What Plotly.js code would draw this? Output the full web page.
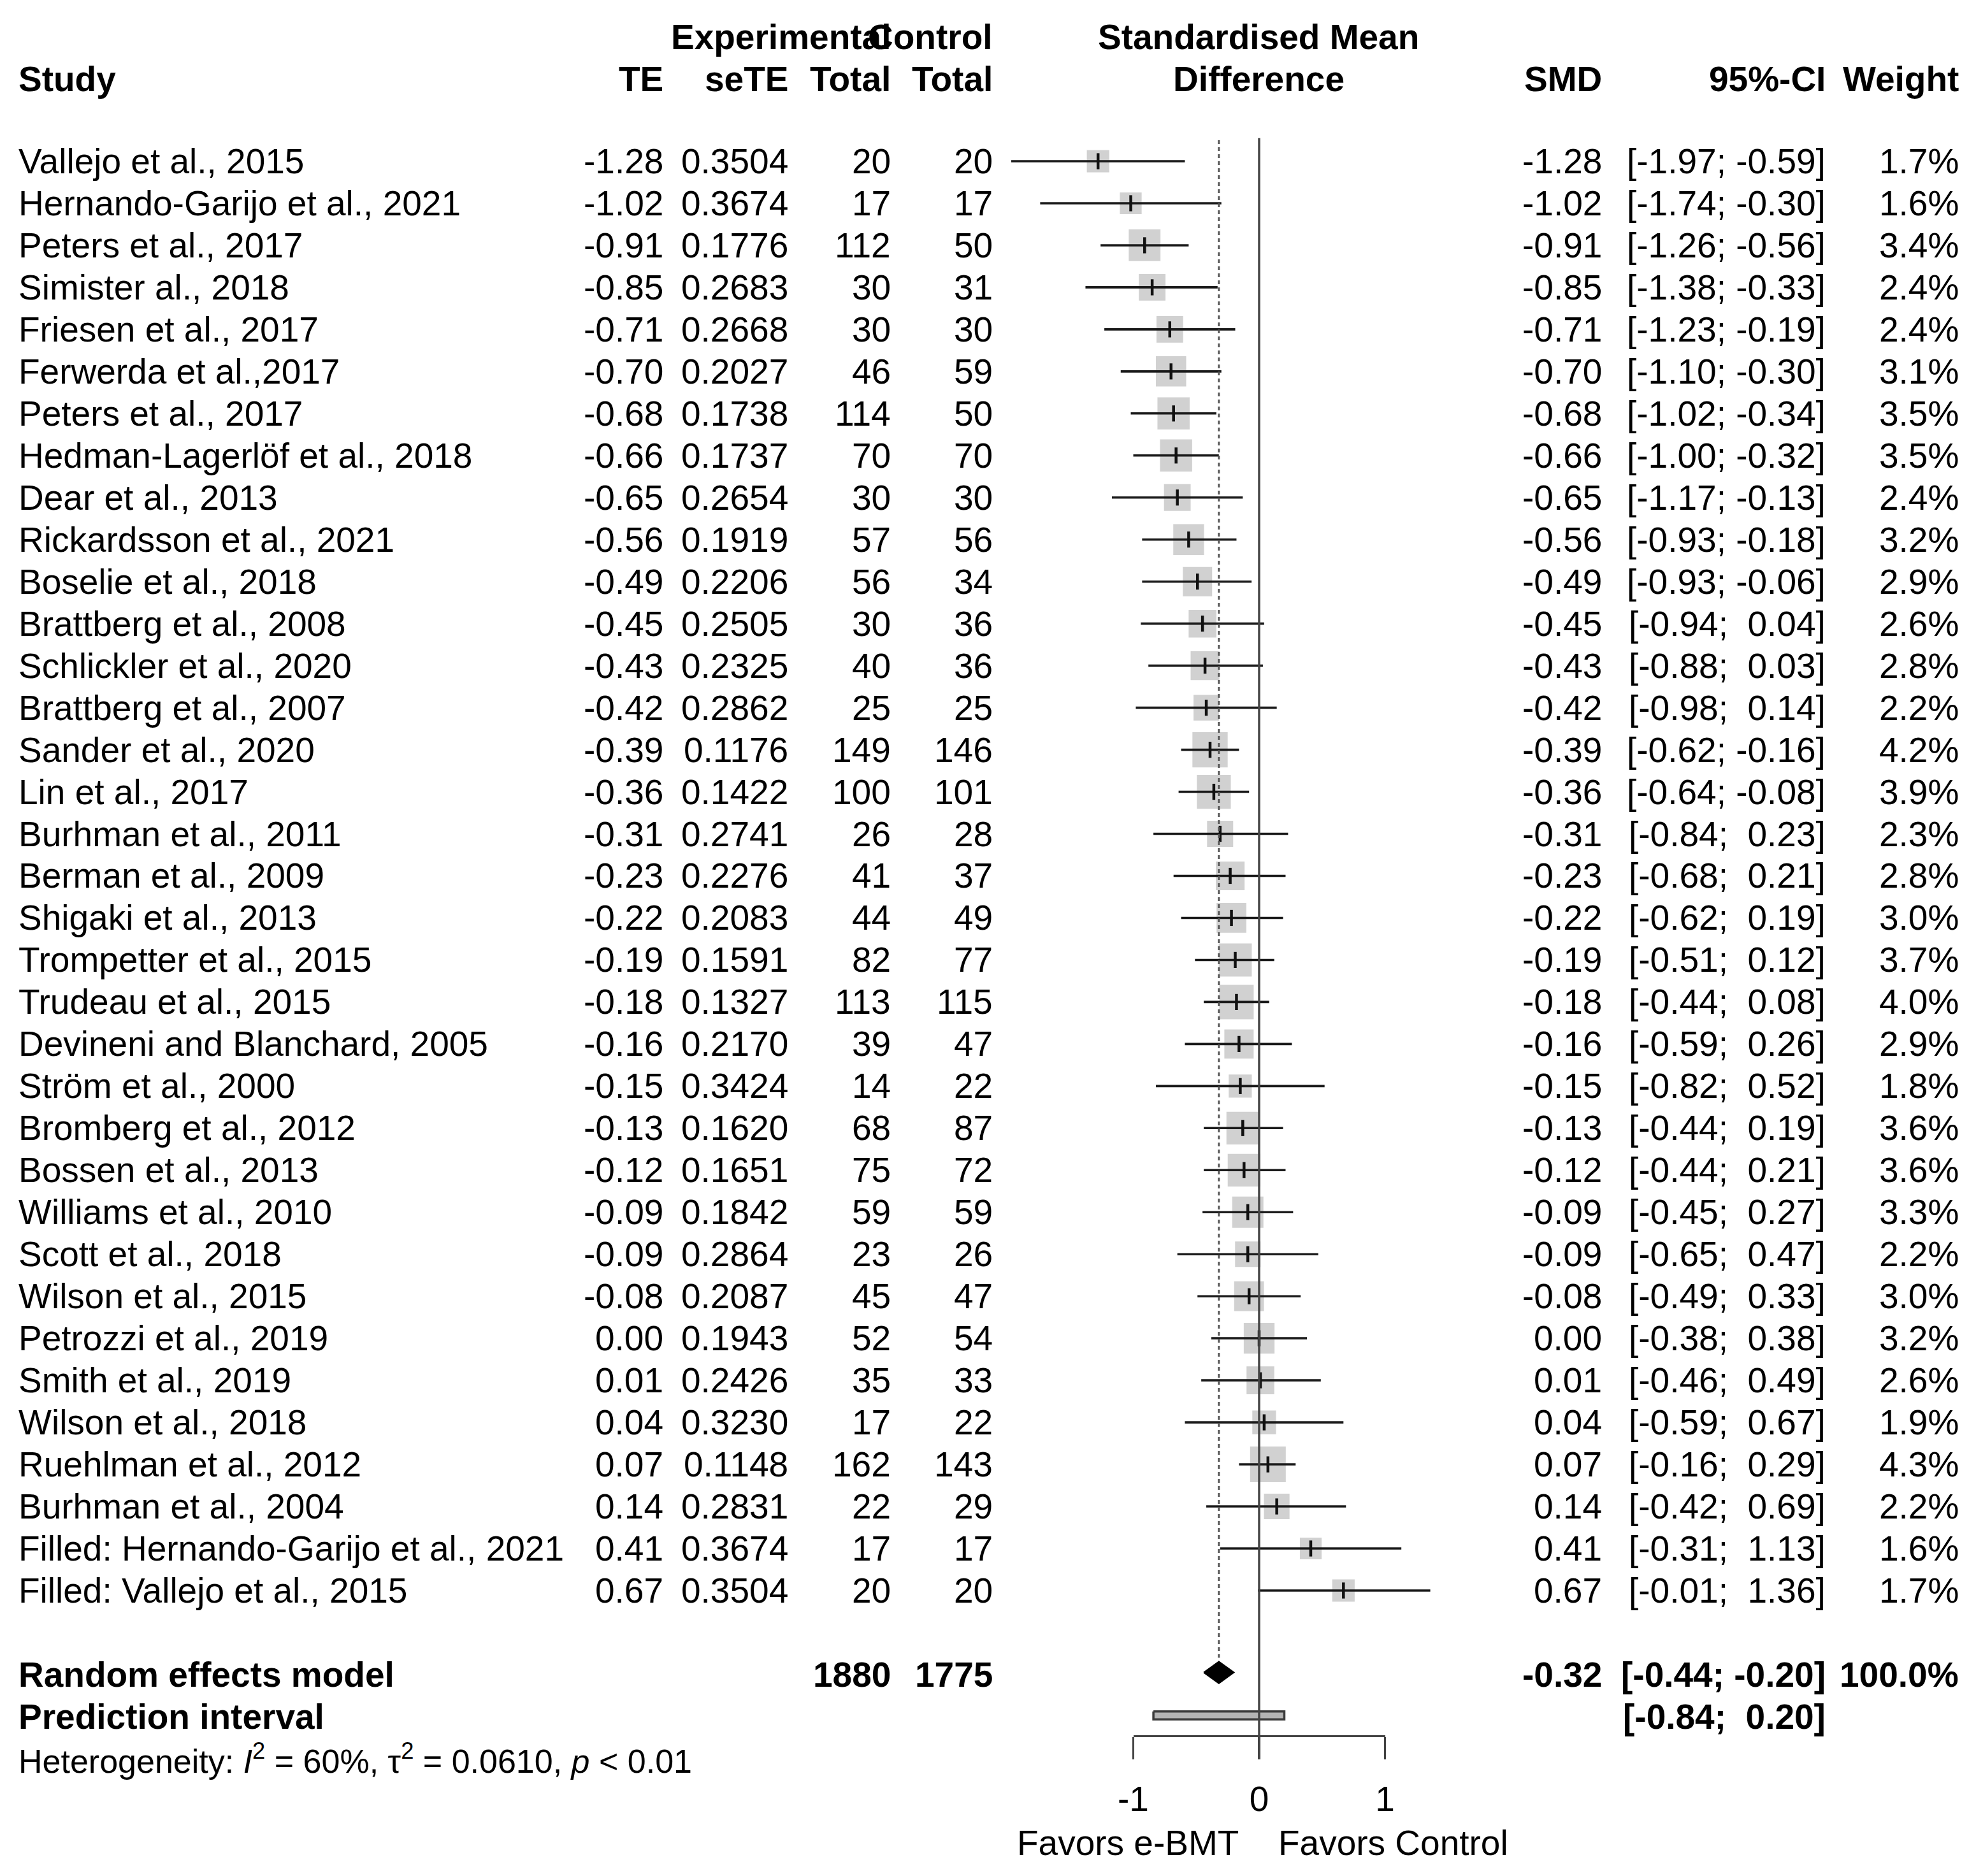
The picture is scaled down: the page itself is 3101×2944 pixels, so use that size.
<!DOCTYPE html>
<html><head><meta charset="utf-8">
<script src="https://cdn.plot.ly/plotly-3.0.1.min.js"></script>
<style>html,body{margin:0;padding:0;background:#fff;} #chart{width:3101px;height:2944px;}</style>
</head><body><div id="chart"></div>
<script>
// ---------- DATA ----------
const studies = [
  "Vallejo et al., 2015","Hernando-Garijo et al., 2021","Peters et al., 2017","Simister al., 2018",
  "Friesen et al., 2017","Ferwerda et al.,2017","Peters et al., 2017","Hedman-Lagerlöf et al., 2018",
  "Dear et al., 2013","Rickardsson et al., 2021","Boselie et al., 2018","Brattberg et al., 2008",
  "Schlickler et al., 2020","Brattberg et al., 2007","Sander et al., 2020","Lin et al., 2017",
  "Burhman et al., 2011","Berman et al., 2009","Shigaki et al., 2013","Trompetter et al., 2015",
  "Trudeau et al., 2015","Devineni and Blanchard, 2005","Ström et al., 2000","Bromberg et al., 2012",
  "Bossen et al., 2013","Williams et al., 2010","Scott et al., 2018","Wilson et al., 2015",
  "Petrozzi et al., 2019","Smith et al., 2019","Wilson et al., 2018","Ruehlman et al., 2012",
  "Burhman et al., 2004","Filled: Hernando-Garijo et al., 2021","Filled: Vallejo et al., 2015"
];
const te = [-1.28,-1.02,-0.91,-0.85,-0.71,-0.70,-0.68,-0.66,-0.65,-0.56,-0.49,-0.45,-0.43,-0.42,-0.39,-0.36,
  -0.31,-0.23,-0.22,-0.19,-0.18,-0.16,-0.15,-0.13,-0.12,-0.09,-0.09,-0.08,0.00,0.01,0.04,0.07,0.14,0.41,0.67];
const seTE = [0.3504,0.3674,0.1776,0.2683,0.2668,0.2027,0.1738,0.1737,0.2654,0.1919,0.2206,0.2505,0.2325,0.2862,
  0.1176,0.1422,0.2741,0.2276,0.2083,0.1591,0.1327,0.2170,0.3424,0.1620,0.1651,0.1842,0.2864,0.2087,0.1943,
  0.2426,0.3230,0.1148,0.2831,0.3674,0.3504];
const nExp = [20,17,112,30,30,46,114,70,30,57,56,30,40,25,149,100,26,41,44,82,113,39,14,68,75,59,23,45,52,35,17,162,22,17,20];
const nCtrl = [20,17,50,31,30,59,50,70,30,56,34,36,36,25,146,101,28,37,49,77,115,47,22,87,72,59,26,47,54,33,22,143,29,17,20];
const ciLow = [-1.97,-1.74,-1.26,-1.38,-1.23,-1.10,-1.02,-1.00,-1.17,-0.93,-0.93,-0.94,-0.88,-0.98,-0.62,-0.64,
  -0.84,-0.68,-0.62,-0.51,-0.44,-0.59,-0.82,-0.44,-0.44,-0.45,-0.65,-0.49,-0.38,-0.46,-0.59,-0.16,-0.42,-0.31,-0.01];
const ciHigh = [-0.59,-0.30,-0.56,-0.33,-0.19,-0.30,-0.34,-0.32,-0.13,-0.18,-0.06,0.04,0.03,0.14,-0.16,-0.08,
  0.23,0.21,0.19,0.12,0.08,0.26,0.52,0.19,0.21,0.27,0.47,0.33,0.38,0.49,0.67,0.29,0.69,1.13,1.36];
const weight = [1.7,1.6,3.4,2.4,2.4,3.1,3.5,3.5,2.4,3.2,2.9,2.6,2.8,2.2,4.2,3.9,2.3,2.8,3.0,3.7,4.0,2.9,1.8,3.6,3.6,3.3,2.2,3.0,3.2,2.6,1.9,4.3,2.2,1.6,1.7];
const pooledSMD = -0.32, pooledLow = -0.44, pooledHigh = -0.20, pooledWeight = 100.0;
const totalExp = 1880, totalCtrl = 1775;
const predLow = -0.84, predHigh = 0.20;
const tickVals = [-1, 0, 1];
const tickText = ["-1", "0", "1"];
const leftLabel = "Favors e-BMT", rightLabel = "Favors Control";
const hetText = "Heterogeneity: <i>I</i><sup>2</sup> = 60%, τ<sup>2</sup> = 0.0610, <i>p</i> &lt; 0.01";

// ---------- LAYOUT GEOMETRY ----------
const W = 3101, H = 2944;
const X0 = 1976, XS = 197.5;          // pixel of 0, pixels per unit
const Y0 = 253, YS = 65.97;           // pixel of first row, pixels per row
const FS = 55, FONT = "Liberation Sans, Arial, sans-serif";
const px = p => p / W;
const rows = studies.map((_, i) => i);
const rowPooled = 35.95, rowPred = 36.97, rowHet = 38.0;

const f2 = v => (Math.abs(v) < 0.005 ? 0 : v).toFixed(2);
const pad = v => (v < 0 ? "" : "\u00A0") + f2(v);
const ci = (a, b) => "[" + pad(a) + ";\u00A0" + pad(b) + "]";

// ---------- TRACES ----------
const traces = [];
// squares
traces.push({
  type: "scatter", mode: "markers", x: te, y: rows, xaxis: "x", yaxis: "y",
  marker: { symbol: "square", color: "#bdbdbd", size: weight.map(w => 27 * Math.sqrt(w)), line: { width: 0 } },
  hoverinfo: "skip"
});
// CI lines
const lx = [], ly = [];
rows.forEach(i => { lx.push(ciLow[i], ciHigh[i], null); ly.push(i, i, null); });
traces.push({ type: "scatter", mode: "lines", x: lx, y: ly, line: { color: "#1a1a1a", width: 3.6 }, hoverinfo: "skip" });
// point tick
traces.push({
  type: "scatter", mode: "markers", x: te, y: rows,
  marker: { symbol: "line-ns", size: 18, line: { color: "#111", width: 4.5 } }, hoverinfo: "skip"
});
// pooled diamond
const dh = 0.26;
traces.push({
  type: "scatter", mode: "lines", fill: "toself", fillcolor: "#000",
  x: [pooledLow, pooledSMD, pooledHigh, pooledSMD, pooledLow],
  y: [rowPooled, rowPooled - dh, rowPooled, rowPooled + dh, rowPooled],
  line: { color: "#000", width: 2 }, hoverinfo: "skip"
});
// prediction interval
const ph = 0.095;
traces.push({
  type: "scatter", mode: "lines", fill: "toself", fillcolor: "#b4b4b4",
  x: [predLow, predHigh, predHigh, predLow, predLow],
  y: [rowPred - ph, rowPred - ph, rowPred + ph, rowPred + ph, rowPred - ph],
  line: { color: "#3a3a3a", width: 3.5 }, hoverinfo: "skip"
});
// invisible trace to instantiate bottom axis
traces.push({ type: "scatter", mode: "markers", x: tickVals, y: [rowPred, rowPred, rowPred], xaxis: "x2", yaxis: "y",
  marker: { opacity: 0 }, hoverinfo: "skip" });

// ---------- ANNOTATIONS ----------
const ann = [];
function txt(x, y, s, anchor, opts = {}) {
  ann.push(Object.assign({
    xref: "paper", yref: "y", x: px(x), y: y, text: s, showarrow: false,
    xanchor: anchor, yanchor: "middle", borderpad: 0,
    font: { family: FONT, size: FS, color: "#000" }
  }, opts));
}
const B = t => "<b>" + t + "</b>";
const hdr = -1.95, hdr2 = -2.95;
// headers
txt(28, hdr, B("Study"), "left");
txt(1042, hdr, B("TE"), "right");
txt(1238, hdr, B("seTE"), "right");
txt(1399, hdr, B("Total"), "right");
txt(1559, hdr, B("Total"), "right");
txt(1399, hdr2, B("Experimental"), "right");
txt(1559, hdr2, B("Control"), "right");
txt(1975, hdr2, B("Standardised Mean"), "center");
txt(1975, hdr, B("Difference"), "center");
txt(2515, hdr, B("SMD"), "right");
txt(2866, hdr, B("95%-CI"), "right");
txt(3075, hdr, B("Weight"), "right");
// study rows
rows.forEach(i => {
  txt(28, i, studies[i], "left");
  txt(1042, i, f2(te[i]), "right");
  txt(1238, i, seTE[i].toFixed(4), "right");
  txt(1399, i, String(nExp[i]), "right");
  txt(1559, i, String(nCtrl[i]), "right");
  txt(2515, i, f2(te[i]), "right");
  txt(2866, i, ci(ciLow[i], ciHigh[i]), "right");
  txt(3075, i, weight[i].toFixed(1) + "%", "right");
});
// pooled rows
txt(28, 36, B("Random effects model"), "left");
txt(1399, 36, B(String(totalExp)), "right");
txt(1559, 36, B(String(totalCtrl)), "right");
txt(2515, 36, B(f2(pooledSMD)), "right");
txt(2866, 36, B(ci(pooledLow, pooledHigh)), "right");
txt(3075, 36, B(pooledWeight.toFixed(1) + "%"), "right");
txt(28, 37, B("Prediction interval"), "left");
txt(2866, 37, B(ci(predLow, predHigh)), "right");
txt(28, rowHet, hetText, "left", { font: { family: FONT, size: 52, color: "#000" } });
// favours labels
ann.push({ xref: "x", yref: "y", x: -0.15, y: 40.0, text: leftLabel, showarrow: false, xanchor: "right", yanchor: "middle",
  font: { family: FONT, size: FS, color: "#000" } });
ann.push({ xref: "x", yref: "y", x: 0.14, y: 40.0, text: rightLabel, showarrow: false, xanchor: "left", yanchor: "middle",
  font: { family: FONT, size: FS, color: "#000" } });

// ---------- SHAPES ----------
const axisRow = 37.45;
const shapes = [
  { type: "line", xref: "x", yref: "y", x0: 0, x1: 0, y0: -0.55, y1: axisRow, line: { color: "#444", width: 3.5 } },
  { type: "line", xref: "x", yref: "y", x0: pooledSMD, x1: pooledSMD, y0: -0.5, y1: 35.6, line: { color: "#555", width: 3, dash: "6px,5px" } }
];

const axisPos = (H - (Y0 + YS * axisRow)) / H;
const layout = {
  width: W, height: H, margin: { l: 0, r: 0, t: 0, b: 0, pad: 0 },
  paper_bgcolor: "#fff", plot_bgcolor: "rgba(0,0,0,0)", showlegend: false,
  xaxis: { domain: [0, 1], range: [-X0 / XS, (W - X0) / XS], visible: false, showgrid: false, zeroline: false },
  yaxis: { domain: [0, 1], range: [(H - Y0) / YS, -Y0 / YS], visible: false, showgrid: false, zeroline: false },
  xaxis2: {
    domain: [(X0 - XS) / W, (X0 + XS) / W], range: [-1, 1], anchor: "free", position: axisPos,
    tickvals: tickVals, ticktext: tickText, ticks: "outside", ticklen: 35, tickwidth: 3.5, tickcolor: "#444",
    showline: true, linewidth: 3.5, linecolor: "#444", showgrid: false, zeroline: false,
    ticklabelstandoff: 15, tickfont: { family: FONT, size: FS, color: "#000" }
  },
  annotations: ann, shapes: shapes
};
Plotly.newPlot("chart", traces, layout, { staticPlot: true, displayModeBar: false });
</script>
</body></html>
